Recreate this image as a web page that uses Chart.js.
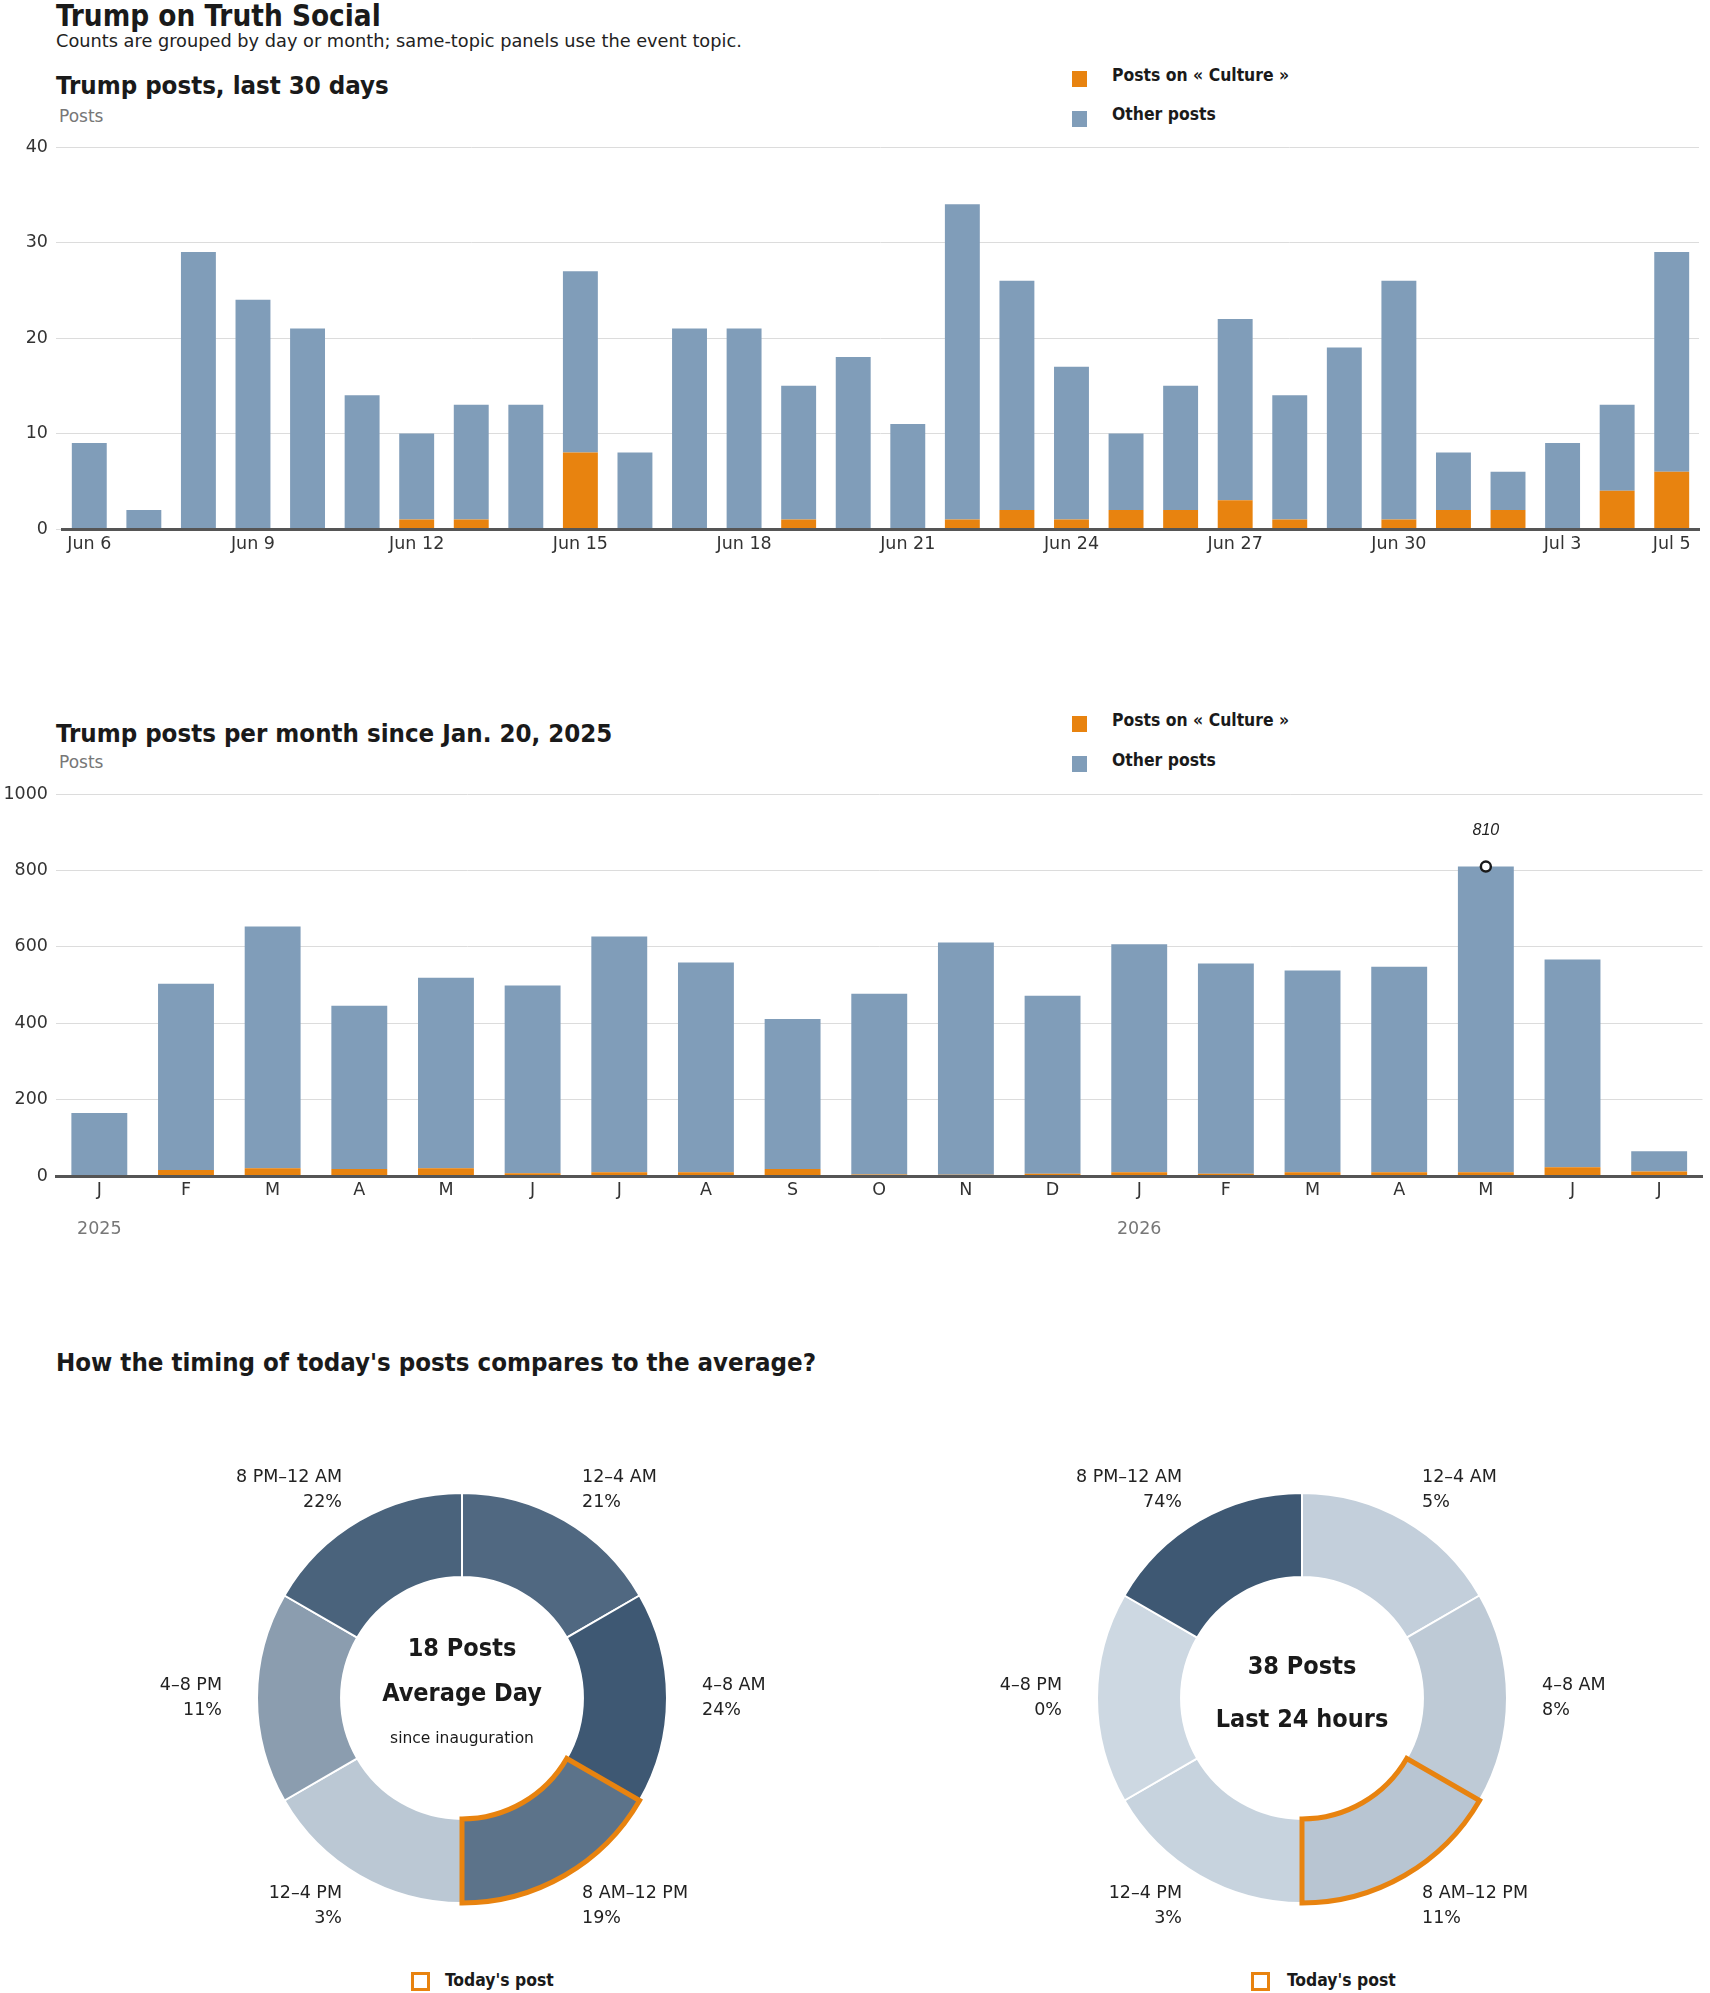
<!DOCTYPE html>
<html>
<head>
<meta charset="utf-8">
<title>Trump on Truth Social</title>
<script src="https://cdn.jsdelivr.net/npm/chart.js@4.4.1/dist/chart.umd.min.js"></script>
<style>
  body { margin: 0; background: #fff; }
  #page { position: relative; width: 1710px; height: 1993px; overflow: hidden;
          font-family: "DejaVu Sans", sans-serif; color: #1a1a1a; }
  .txt { position: absolute; white-space: nowrap; line-height: 1; }
  .bold { font-family: "DejaVu Sans Condensed", "DejaVu Sans", sans-serif; font-weight: bold; }
  .h1 { font-size: 29.4px; }
  .sub { font-size: 17.75px; color: #222; }
  .h2 { font-size: 25.6px; }
  .unit { font-size: 17px; color: #777; }
  .leg { font-size: 17.4px; }
  .legend-box { position: absolute; width: 15px; height: 16px; }
  .today-box { position: absolute; width: 13px; height: 13px; border: 3px solid #e8830f; }
  canvas { position: absolute; }
</style>
</head>
<body>
<div id="page">
  <div class="txt bold h1" style="left:56px; top:1.8px;">Trump on Truth Social</div>
  <div class="txt sub" style="left:56px; top:33.3px;">Counts are grouped by day or month; same-topic panels use the event topic.</div>

  <!-- last 30 days -->
  <div class="txt bold h2" style="left:56px; top:73.3px;">Trump posts, last 30 days</div>
  <div class="txt unit" style="left:59px; top:108.3px;">Posts</div>
  <div class="legend-box" style="left:1072px; top:71px; background:#e8830f;"></div>
  <div class="txt bold leg" style="left:1112px; top:67.3px;">Posts on « Culture »</div>
  <div class="legend-box" style="left:1072px; top:111px; background:#809db9;"></div>
  <div class="txt bold leg" style="left:1112px; top:106.3px;">Other posts</div>
  <canvas id="daysChart" width="1710" height="433" style="left:0; top:127px;"></canvas>

  <!-- per month -->
  <div class="txt bold h2" style="left:56px; top:720.7px;">Trump posts per month since Jan. 20, 2025</div>
  <div class="txt unit" style="left:59px; top:753.6px;">Posts</div>
  <div class="legend-box" style="left:1072px; top:716px; background:#e8830f;"></div>
  <div class="txt bold leg" style="left:1112px; top:712.3px;">Posts on « Culture »</div>
  <div class="legend-box" style="left:1072px; top:756px; background:#809db9;"></div>
  <div class="txt bold leg" style="left:1112px; top:752.3px;">Other posts</div>
  <canvas id="monthsChart" width="1710" height="480" style="left:0; top:774px;"></canvas>

  <!-- timing donuts -->
  <div class="txt bold h2" style="left:56px; top:1350.3px;">How the timing of today's posts compares to the average?</div>
  <canvas id="avgDonut" width="800" height="520" style="left:62px; top:1438px;"></canvas>
  <canvas id="todayDonut" width="800" height="520" style="left:902px; top:1438px;"></canvas>
  <div class="today-box" style="left:411px; top:1972px;"></div>
  <div class="txt bold leg" style="left:445px; top:1971.8px;">Today's post</div>
  <div class="today-box" style="left:1251px; top:1972px;"></div>
  <div class="txt bold leg" style="left:1287px; top:1971.8px;">Today's post</div>
</div>

<script>
// --- DATA ---
const dayLabels = ['Jun 6', 'Jun 7', 'Jun 8', 'Jun 9', 'Jun 10', 'Jun 11', 'Jun 12', 'Jun 13', 'Jun 14', 'Jun 15',
    'Jun 16', 'Jun 17', 'Jun 18', 'Jun 19', 'Jun 20', 'Jun 21', 'Jun 22', 'Jun 23', 'Jun 24', 'Jun 25',
    'Jun 26', 'Jun 27', 'Jun 28', 'Jun 29', 'Jun 30', 'Jul 1', 'Jul 2', 'Jul 3', 'Jul 4', 'Jul 5'];
const dayCulture = [0, 0, 0, 0, 0, 0, 1, 1, 0, 8, 0, 0, 0, 1, 0, 0, 1, 2, 1, 2, 2, 3, 1, 0, 1, 2, 2, 0, 4, 6];
const dayOther = [9, 2, 29, 24, 21, 14, 9, 12, 13, 19, 8, 21, 21, 14, 18, 11, 33, 24, 16, 8, 13, 19, 13, 19, 25, 6, 4, 9, 9, 23];

const monthLabels = ['J', 'F', 'M', 'A', 'M', 'J', 'J', 'A', 'S', 'O', 'N', 'D', 'J', 'F', 'M', 'A', 'M', 'J', 'J'];
const yearLabels = ['2025', '', '', '', '', '', '', '', '', '', '', '', '2026', '', '', '', '', '', ''];
const monthCulture = [2, 16, 20, 18, 20, 7, 10, 10, 18, 4, 3, 6, 10, 6, 10, 10, 10, 23, 12];
const monthOther = [163, 487, 633, 428, 499, 492, 617, 549, 393, 473, 608, 466, 597, 550, 528, 538, 800, 544, 53];
const monthTotals = [165, 503, 653, 446, 519, 499, 627, 559, 411, 477, 611, 472, 607, 556, 538, 548, 810, 567, 65];

const slotLabels = ['12–4 AM', '4–8 AM', '8 AM–12 PM', '12–4 PM', '4–8 PM', '8 PM–12 AM'];
const slotWeights = [1, 1, 1, 1, 1, 1];   // every 4-hour slot gets the same slice
const avgShares = [21, 24, 19, 3, 11, 22];
const todayShares = [5, 8, 11, 3, 0, 74];
const todaySlot = 2;

// --- STYLE ---
const ORANGE = '#e8830f';
const BLUE = '#809db9';
const GRID = '#dcdcdc';
const AXIS = '#555555';
const FONT = '"DejaVu Sans", sans-serif';
const BOLD_FONT = '"DejaVu Sans Condensed", "DejaVu Sans", sans-serif';
const TICK_FONT = { family: FONT, size: 17.5 };

Chart.defaults.font.family = FONT;
Chart.defaults.color = '#333';

// --- LAST 30 DAYS ---
new Chart(document.getElementById('daysChart'), {
    type: 'bar',
    data: {
        labels: dayLabels,
        datasets: [
            { label: 'Posts on « Culture »', data: dayCulture, backgroundColor: ORANGE },
            { label: 'Other posts', data: dayOther, backgroundColor: BLUE }
        ]
    },
    options: {
        responsive: false,
        animation: false,
        events: [],
        layout: { padding: { top: 20, right: 11, bottom: 0, left: 0 } },
        datasets: { bar: { categoryPercentage: 1, barPercentage: 0.64 } },
        plugins: { legend: { display: false }, tooltip: { enabled: false } },
        scales: {
            x: {
                stacked: true,
                grid: { display: false, drawTicks: false },
                border: { display: true, color: AXIS, width: 3, z: 1 },
                ticks: {
                    autoSkip: false, maxRotation: 0, padding: 5, font: TICK_FONT, color: '#333',
                    callback: (v, i) => (i % 3 === 0 || i === dayLabels.length - 1) ? dayLabels[i] : ''
                }
            },
            y: {
                stacked: true, min: 0, max: 40,
                afterFit: s => { s.width = 62; },
                grid: { color: GRID, tickLength: 6 },
                border: { display: false },
                ticks: { stepSize: 10, padding: 8, font: TICK_FONT, color: '#333' }
            }
        }
    }
});

// --- PER MONTH ---
const peakIndex = monthTotals.indexOf(Math.max(...monthTotals));
const peakData = monthTotals.map((v, i) => i === peakIndex ? v : null);

const peakLabelPlugin = {
    id: 'peakLabel',
    afterDatasetsDraw(chart) {
        const pt = chart.getDatasetMeta(2).data[peakIndex];
        const ctx = chart.ctx;
        ctx.save();
        ctx.font = 'italic 16px "Liberation Sans Narrow", "Liberation Sans", sans-serif';
        ctx.fillStyle = '#222';
        ctx.textAlign = 'center';
        ctx.textBaseline = 'middle';
        ctx.fillText(String(monthTotals[peakIndex]), pt.x, pt.y - 36);
        ctx.restore();
    }
};

new Chart(document.getElementById('monthsChart'), {
    type: 'bar',
    data: {
        labels: monthLabels,
        datasets: [
            { label: 'Posts on « Culture »', data: monthCulture, backgroundColor: ORANGE },
            { label: 'Other posts', data: monthOther, backgroundColor: BLUE },
            {
                type: 'line', label: 'peak', data: peakData, stack: 'peak', order: -1,
                showLine: false, pointRadius: 5, pointBorderWidth: 2.5,
                pointBorderColor: '#1a1a1a', pointBackgroundColor: '#ffffff'
            }
        ]
    },
    options: {
        responsive: false,
        animation: false,
        events: [],
        layout: { padding: { top: 20, right: 4, bottom: 0, left: 0 } },
        datasets: { bar: { categoryPercentage: 1, barPercentage: 0.645 } },
        plugins: { legend: { display: false }, tooltip: { enabled: false } },
        scales: {
            x: {
                stacked: true, weight: 0,
                grid: { display: false, drawTicks: false },
                border: { display: true, color: AXIS, width: 3, z: 1 },
                ticks: { autoSkip: false, maxRotation: 0, padding: 4, font: TICK_FONT, color: '#333' }
            },
            year: {
                type: 'category', labels: yearLabels, position: 'bottom', offset: true, weight: 1,
                grid: { display: false, drawTicks: false },
                border: { display: false },
                ticks: { autoSkip: false, maxRotation: 0, padding: 14, font: TICK_FONT, color: '#777' }
            },
            y: {
                stacked: true, min: 0, max: 1000,
                afterFit: s => { s.width = 56; },
                grid: { color: GRID, drawTicks: false },
                border: { display: false },
                ticks: { stepSize: 200, padding: 8, font: TICK_FONT, color: '#333', callback: v => String(v) }
            }
        }
    },
    plugins: [peakLabelPlugin]
});

// --- TIMING DONUTS ---
function shadeFor(pct, maxPct) {
    const t = maxPct > 0 ? pct / maxPct : 0;
    const mix = (a, b) => Math.round(a + (b - a) * t);
    return `rgb(${mix(205, 62)}, ${mix(216, 88)}, ${mix(226, 115)})`;
}

function donutDecor(shares, centerLines) {
    return {
        id: 'donutDecor',
        afterDatasetsDraw(chart) {
            const arcs = chart.getDatasetMeta(0).data;
            const ctx = chart.ctx;
            const hl = arcs[todaySlot].getProps(['x', 'y', 'startAngle', 'endAngle', 'innerRadius', 'outerRadius'], true);
            const cx = hl.x, cy = hl.y;

            ctx.save();
            // outline of the slot today's post falls in
            ctx.beginPath();
            ctx.arc(cx, cy, hl.outerRadius, hl.startAngle, hl.endAngle);
            ctx.arc(cx, cy, hl.innerRadius, hl.endAngle, hl.startAngle, true);
            ctx.closePath();
            ctx.lineWidth = 5;
            ctx.lineJoin = 'miter';
            ctx.strokeStyle = ORANGE;
            ctx.stroke();

            // slot labels around the ring
            const labelRadius = hl.outerRadius + 35;
            ctx.font = `17.5px ${FONT}`;
            ctx.fillStyle = '#222';
            ctx.textBaseline = 'middle';
            arcs.forEach((arc, i) => {
                const mid = (arc.startAngle + arc.endAngle) / 2;
                const lx = cx + labelRadius * Math.cos(mid);
                const ly = cy + labelRadius * Math.sin(mid);
                ctx.textAlign = Math.cos(mid) > 0 ? 'left' : 'right';
                ctx.fillText(slotLabels[i], lx, ly - 12.5);
                ctx.fillText(shares[i] + '%', lx, ly + 12.5);
            });

            // center text
            ctx.textAlign = 'center';
            ctx.fillStyle = '#1a1a1a';
            centerLines.forEach(line => {
                ctx.font = line.font;
                ctx.fillText(line.text, cx, cy + line.dy);
            });
            ctx.restore();
        }
    };
}

function makeDonut(canvasId, shares, centerLines) {
    const maxShare = Math.max(...shares);
    return new Chart(document.getElementById(canvasId), {
        type: 'doughnut',
        data: {
            labels: slotLabels,
            datasets: [{
                data: slotWeights,
                backgroundColor: shares.map(s => shadeFor(s, maxShare)),
                borderColor: '#ffffff',
                borderWidth: 2
            }]
        },
        options: {
            responsive: false,
            animation: false,
            events: [],
            cutout: '59%',
            layout: { padding: { top: 54, bottom: 54, left: 0, right: 0 } },
            plugins: { legend: { display: false }, tooltip: { enabled: false } }
        },
        plugins: [donutDecor(shares, centerLines)]
    });
}

makeDonut('avgDonut', avgShares, [
    { text: '18 Posts', font: `bold 25px ${BOLD_FONT}`, dy: -49 },
    { text: 'Average Day', font: `bold 25px ${BOLD_FONT}`, dy: -4 },
    { text: 'since inauguration', font: `15.5px ${FONT}`, dy: 41 }
]);
makeDonut('todayDonut', todayShares, [
    { text: '38 Posts', font: `bold 25px ${BOLD_FONT}`, dy: -31 },
    { text: 'Last 24 hours', font: `bold 25px ${BOLD_FONT}`, dy: 22 }
]);
</script>
</body>
</html>
